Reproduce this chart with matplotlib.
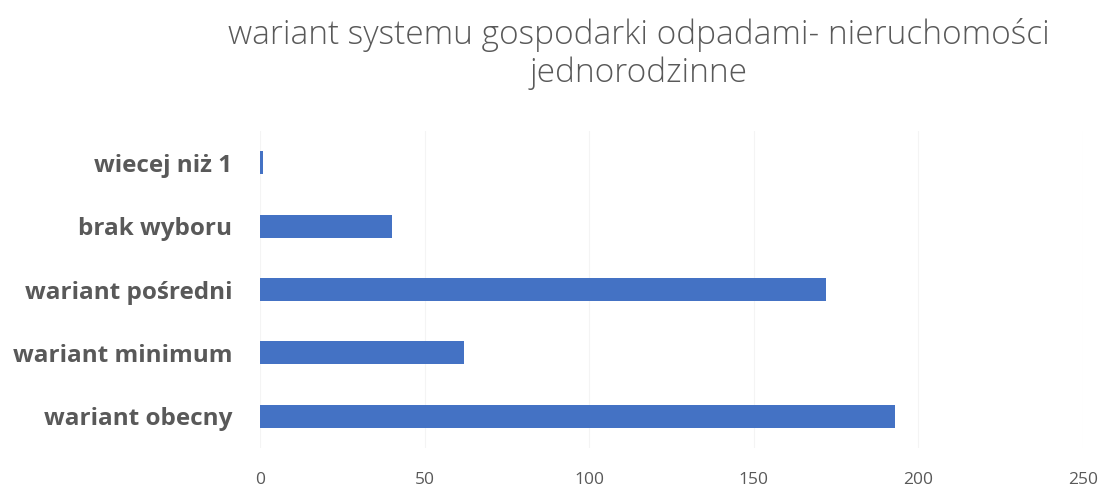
import matplotlib
matplotlib.use("Agg")
import matplotlib.pyplot as plt

# Chart data
categories = ["wariant obecny", "wariant minimum", "wariant pośredni",
              "brak wyboru", "wiecej niż 1"]
values = [193, 62, 172, 40, 1]
x_ticks = [0, 50, 100, 150, 200, 250]

BAR_COLOR = "#4472C4"
TEXT_GRAY = "#595959"

plt.rcParams["font.family"] = ["Open Sans", "DejaVu Sans"]

fig = plt.figure(figsize=(10.99, 4.86), dpi=100)
ax = fig.add_axes([260 / 1099, 1 - 448 / 486, (1083 - 260) / 1099, (448 - 131) / 486])

ax.barh(range(len(categories)), values, height=0.36, color=BAR_COLOR, zorder=3)

ax.set_xlim(0, 250)
ax.set_ylim(-0.5, len(categories) - 0.5)
ax.set_xticks(x_ticks)
ax.set_xticklabels([str(t) for t in x_ticks], fontsize=12.5, color=TEXT_GRAY)
ax.set_yticks(range(len(categories)))
ax.set_yticklabels(categories, fontsize=17.5, fontweight="bold", color=TEXT_GRAY)
ax.tick_params(axis="both", length=0)
ax.tick_params(axis="x", pad=17)
ax.tick_params(axis="y", pad=20)

ax.grid(axis="x", color="#f4f4f4", linewidth=0.8, zorder=0)
for side in ax.spines.values():
    side.set_visible(False)

fig.text(0.581, 1 - 35 / 486, "wariant systemu gospodarki odpadami- nieruchomości",
         ha="center", va="center", fontsize=24, fontweight="light", color=TEXT_GRAY)
fig.text(0.581, 1 - 73 / 486, "jednorodzinne",
         ha="center", va="center", fontsize=24, fontweight="light", color=TEXT_GRAY)

fig.savefig("out.png", dpi=100)
